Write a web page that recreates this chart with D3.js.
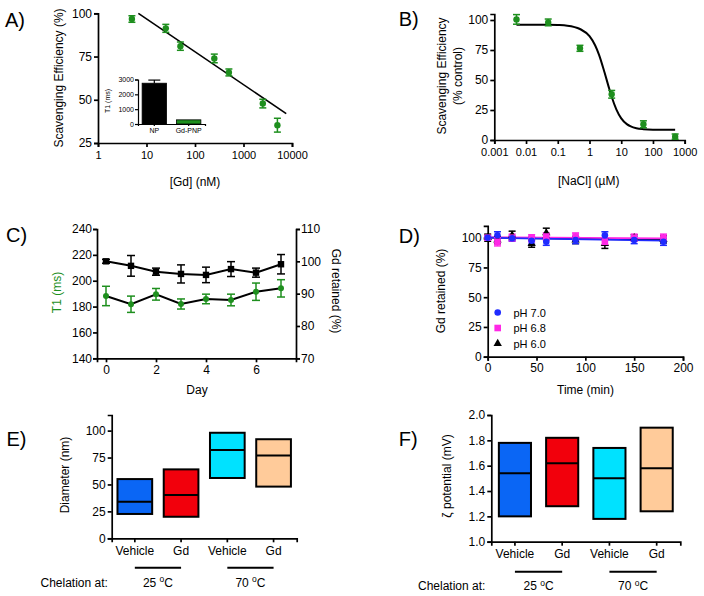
<!DOCTYPE html>
<html><head><meta charset="utf-8">
<script src="https://cdn.jsdelivr.net/npm/d3@7"></script>
<style>body{margin:0;background:#fff} svg{display:block}</style>
</head><body>
<svg id="c" width="704" height="596"></svg>
<script>
// ---------- DATA ----------
// Panel A
const aConc = [5, 25, 50, 250, 500, 2500, 5000];
const aEff = [96.7, 91.3, 81, 73.9, 65.8, 47.8, 35.3];
const aErr = [1.9, 2.3, 2.4, 2.5, 2, 2.5, 4];
const aFitConc = [6.8, 7600];
const aFitEff = [100, 42];
const aXTicks = [1, 10, 100, 1000, 10000];
const aYTicks = [25, 50, 75, 100];
const aInsetCats = ["NP", "Gd-PNP"];
const aInsetT1 = [2750, 280];
const aInsetErr = [210, 0];
const aInsetTicks = [0, 1000, 2000, 3000];
// Panel B
const bConc = [0.005, 0.05, 0.5, 5, 50, 500];
const bEff = [100.5, 98, 76.4, 38.1, 13.1, 2.8];
const bErr = [4, 2.8, 2.5, 3.2, 2.9, 2.2];
const bCurveConc = [0.005, 0.05, 0.1, 0.2, 0.5, 1, 1.5, 2, 3, 4, 5, 7, 10, 15, 20, 30, 50, 100, 500];
const bCurveEff = [96, 96, 95.8, 95.3, 92.5, 86.5, 79, 71, 56, 44.5, 36, 25.5, 18, 13.2, 11.3, 9.8, 9, 8.6, 8.5];
const bXTicks = [0.001, 0.01, 0.1, 1, 10, 100, 1000];
const bXLabels = ["0.001", "0.01", "0.1", "1", "10", "100", "1000"];
const bYTicks = [0, 25, 50, 75, 100];
// Panel C
const cDay = [0, 1, 2, 3, 4, 5, 6, 7];
const cT1 = [188.2, 181.8, 189.5, 182, 185.9, 185.1, 191.5, 194.1];
const cT1Err = [7.5, 6.3, 4.5, 3.9, 3.7, 4.5, 6.7, 6.7];
const cGd = [100, 98.6, 96.8, 96.1, 95.8, 97.6, 96.5, 99.1];
const cGdErr = [0.6, 3.2, 1.1, 2.8, 2.4, 2.3, 1.4, 3.0];
const cXTicks = [0, 2, 4, 6];
const cLeftTicks = [140, 160, 180, 200, 220, 240];
const cRightTicks = [70, 80, 90, 100, 110];
// Panel D
const dTime = [0, 10, 25, 45, 60, 90, 120, 150, 180];
const dPH70 = [100, 102, 99.5, 97.5, 96.6, 98, 102, 98, 96.6];
const dPH70Err = [1.5, 3, 2, 3, 3, 3, 3, 3, 3];
const dPH68 = [100, 96.6, 100, 99.5, 101, 101, 96.6, 100, 100];
const dPH68Err = [1.5, 3.5, 3, 3, 3, 3, 3, 3, 3];
const dPH60 = [100, 98, 102, 95, 104, 98, 95, 100, 98.6];
const dPH60Err = [3, 3, 3.5, 3, 4, 3, 4, 2.5, 3];
const dFitTime = [0, 180];
const dFit70 = [100, 97.5];
const dFit68 = [100.3, 99.5];
const dFit60 = [100, 98.2];
const dLegend = ["pH 7.0", "pH 6.8", "pH 6.0"];
const dXTicks = [0, 50, 100, 150, 200];
const dYTicks = [0, 25, 50, 75, 100];
// Panel E
const boxCats = ["Vehicle 25", "Gd 25", "Vehicle 70", "Gd 70"];
const boxLabels = ["Vehicle", "Gd", "Vehicle", "Gd"];
const boxColors = ["#0a66f5", "#f2000c", "#00e2ff", "#ffcb9a"];
const eMin = [22.6, 20, 56, 48];
const eMed = [34, 40.2, 82, 77];
const eMax = [55, 64, 98, 92];
const eYTicks = [0, 25, 50, 75, 100];
// Panel F
const fMin = [1.20, 1.28, 1.18, 1.24];
const fMed = [1.54, 1.62, 1.50, 1.58];
const fMax = [1.78, 1.82, 1.74, 1.90];
const fYTicks = [1.0, 1.2, 1.4, 1.6, 1.8, 2.0];
const groupLabels = ["25 ", "70 "];

// ---------- DRAWING ----------
const FONT = '"Liberation Sans", Arial, Helvetica, sans-serif';
const GREEN = "#1e8f1e";
const svg = d3.select("#c");
svg.append("rect").attr("width", 704).attr("height", 596).attr("fill", "#fff");

function styleAxis(g, fs) {
  g.attr("font-size", fs).attr("font-family", FONT);
  g.selectAll("path,line").attr("stroke", "#000").attr("stroke-width", 1.7);
  g.selectAll("text").attr("fill", "#000");
  return g;
}
function txt(x, y, s, opt = {}) {
  const t = svg.append("text").attr("x", x).attr("y", y).text(s)
    .attr("font-family", FONT).attr("font-size", opt.fs || 12)
    .attr("fill", opt.fill || "#000").attr("text-anchor", opt.anchor || "middle");
  if (opt.rot) t.attr("transform", `rotate(${opt.rot},${x},${y})`);
  return t;
}
function errBars(g, xs, ys, es, x, y, color, cap) {
  xs.forEach((d, i) => {
    const cx = x(d), y1 = y(ys[i] - es[i]), y2 = y(ys[i] + es[i]);
    g.append("line").attr("x1", cx).attr("x2", cx).attr("y1", y1).attr("y2", y2).attr("stroke", color).attr("stroke-width", 1.5);
    [y1, y2].forEach(yy => g.append("line").attr("x1", cx - cap / 2).attr("x2", cx + cap / 2).attr("y1", yy).attr("y2", yy).attr("stroke", color).attr("stroke-width", 1.5));
  });
}

// ===== Panel A =====
{
  const g = svg.append("g");
  const x = d3.scaleLog().domain([1, 10000]).range([98, 292]);
  const y = d3.scaleLinear().domain([25, 100]).range([143, 13.3]);
  styleAxis(g.append("g").attr("transform", "translate(0,143)")
    .call(d3.axisBottom(x).tickValues(aXTicks).tickFormat(d3.format("d")).tickSizeOuter(0).tickSize(4).tickPadding(4)), 11);
  styleAxis(g.append("g").attr("transform", "translate(98,0)")
    .call(d3.axisLeft(y).tickValues(aYTicks).tickSizeOuter(0).tickSize(4).tickPadding(2)), 12);
  const line = d3.line().x((d, i) => x(aFitConc[i])).y((d, i) => y(aFitEff[i]));
  g.append("path").attr("d", line(aFitConc)).attr("fill", "none").attr("stroke", "#000").attr("stroke-width", 1.6);
  errBars(g, aConc, aEff, aErr, x, y, GREEN, 7);
  g.selectAll(".pa").data(aConc).join("circle").attr("cx", d => x(d)).attr("cy", (d, i) => y(aEff[i])).attr("r", 3.2).attr("fill", GREEN);
  // inset
  const ix = d3.scaleBand().domain(aInsetCats).range([138, 205]).paddingInner(0.29).paddingOuter(0.12);
  const iy = d3.scaleLinear().domain([0, 3000]).range([124, 79.5]);
  g.selectAll(".ib").data(aInsetCats).join("rect")
    .attr("x", d => ix(d)).attr("width", ix.bandwidth())
    .attr("y", (d, i) => iy(aInsetT1[i])).attr("height", (d, i) => iy(0) - iy(aInsetT1[i]))
    .attr("fill", (d, i) => i === 0 ? "#000" : GREEN).attr("stroke", "#000").attr("stroke-width", 0.8);
  aInsetCats.forEach((c, i) => {
    if (aInsetErr[i] > 0) {
      const cx = ix(c) + ix.bandwidth() / 2, yt = iy(aInsetT1[i] + aInsetErr[i]);
      g.append("line").attr("x1", cx).attr("x2", cx).attr("y1", iy(aInsetT1[i])).attr("y2", yt).attr("stroke", "#000").attr("stroke-width", 1.2);
      g.append("line").attr("x1", cx - 6).attr("x2", cx + 6).attr("y1", yt).attr("y2", yt).attr("stroke", "#000").attr("stroke-width", 1.2);
    }
  });
  const iax = styleAxis(g.append("g").attr("transform", "translate(0,124)")
    .call(d3.axisBottom(ix).tickSizeOuter(0).tickSize(2).tickPadding(2)), 7);
  iax.selectAll("path,line").attr("stroke-width", 1.2);
  const iay = styleAxis(g.append("g").attr("transform", "translate(138,0)")
    .call(d3.axisLeft(iy).tickValues(aInsetTicks).tickFormat(d3.format("d")).tickSizeOuter(0).tickSize(3).tickPadding(1)), 7);
  iay.selectAll("path,line").attr("stroke-width", 1.2);
  txt(110, 101, "T1 (ms)", { fs: 7, rot: -90 });
  txt(195, 186, "[Gd] (nM)", { fs: 12 });
  txt(62.5, 78, "Scavenging Efficiency (%)", { fs: 12, rot: -90 });
  txt(5, 27, "A)", { fs: 20, anchor: "start" });
}

// ===== Panel B =====
{
  const g = svg.append("g");
  const x = d3.scaleLog().domain([0.001, 1000]).range([494.3, 684.7]);
  const y = d3.scaleLinear().domain([0, 105]).range([140, 14]);
  styleAxis(g.append("g").attr("transform", "translate(0,140)")
    .call(d3.axisBottom(x).tickValues(bXTicks).tickFormat((d, i) => bXLabels[i]).tickSizeOuter(0).tickSize(4).tickPadding(4)), 11);
  styleAxis(g.append("g").attr("transform", "translate(494.3,0)")
    .call(d3.axisLeft(y).tickValues(bYTicks).tickSizeOuter(0).tickSize(4).tickPadding(2)), 12);
  const line = d3.line().x((d, i) => x(bCurveConc[i])).y((d, i) => y(bCurveEff[i])).curve(d3.curveMonotoneX);
  g.append("path").attr("d", line(bCurveConc)).attr("fill", "none").attr("stroke", "#000").attr("stroke-width", 2);
  errBars(g, bConc, bEff, bErr, x, y, GREEN, 7);
  g.selectAll(".pb").data(bConc).join("circle").attr("cx", d => x(d)).attr("cy", (d, i) => y(bEff[i])).attr("r", 3.2).attr("fill", GREEN);
  txt(588.7, 185, "[NaCl] (µM)", { fs: 12 });
  txt(446, 76, "Scavenging Efficiency", { fs: 12, rot: -90 });
  txt(462, 76, "(% control)", { fs: 12, rot: -90 });
  txt(398.7, 25.5, "B)", { fs: 20, anchor: "start" });
}

// ===== Panel C =====
{
  const g = svg.append("g");
  const x = d3.scaleLinear().domain([-0.36, 7.6]).range([97, 296]);
  const yl = d3.scaleLinear().domain([140, 240]).range([358.3, 229]);
  const yr = d3.scaleLinear().domain([70, 110]).range([358.3, 229]);
  styleAxis(g.append("g").attr("transform", "translate(0,358.3)")
    .call(d3.axisBottom(x).tickValues(cXTicks).tickSizeOuter(0).tickSize(4).tickPadding(3)), 12);
  styleAxis(g.append("g").attr("transform", "translate(97,0)")
    .call(d3.axisLeft(yl).tickValues(cLeftTicks).tickSizeOuter(0).tickSize(4).tickPadding(1)), 12);
  styleAxis(g.append("g").attr("transform", "translate(296,0)")
    .call(d3.axisRight(yr).tickValues(cRightTicks).tickSizeOuter(0).tickSize(4).tickPadding(1)), 12);
  const lineG = d3.line().x((d, i) => x(cDay[i])).y((d, i) => yr(cGd[i]));
  const lineT = d3.line().x((d, i) => x(cDay[i])).y((d, i) => yl(cT1[i]));
  g.append("path").attr("d", lineT(cDay)).attr("fill", "none").attr("stroke", "#000").attr("stroke-width", 2);
  g.append("path").attr("d", lineG(cDay)).attr("fill", "none").attr("stroke", "#000").attr("stroke-width", 2);
  errBars(g, cDay, cGd, cGdErr, x, yr, "#000", 8);
  errBars(g, cDay, cT1, cT1Err, x, yl, GREEN, 8);
  g.selectAll(".sq").data(cDay).join("rect").attr("x", d => x(d) - 3.2).attr("y", (d, i) => yr(cGd[i]) - 3.2).attr("width", 6.4).attr("height", 6.4).attr("fill", "#000");
  g.selectAll(".ci").data(cDay).join("circle").attr("cx", d => x(d)).attr("cy", (d, i) => yl(cT1[i])).attr("r", 3).attr("fill", GREEN);
  txt(197, 394, "Day", { fs: 12 });
  txt(61, 292.5, "T1 (ms)", { fs: 12, rot: -90, fill: GREEN });
  txt(332, 291, "Gd retained (%)", { fs: 12, rot: 90 });
  txt(6, 241.5, "C)", { fs: 20, anchor: "start" });
}

// ===== Panel D =====
{
  const g = svg.append("g");
  const x = d3.scaleLinear().domain([0, 200]).range([487.7, 683]);
  const y = d3.scaleLinear().domain([0, 110]).range([356.7, 225.8]);
  styleAxis(g.append("g").attr("transform", "translate(0,356.7)")
    .call(d3.axisBottom(x).tickValues(dXTicks).tickSizeOuter(0).tickSize(4).tickPadding(3)), 12);
  styleAxis(g.append("g").attr("transform", "translate(487.7,0)")
    .call(d3.axisLeft(y).tickValues(dYTicks).tickSizeOuter(0).tickSize(4).tickPadding(2)), 12);
  const BLUE = "#1f2bff", PINK = "#ff28e6";
  const fl = vals => d3.line().x((d, i) => x(dFitTime[i])).y((d, i) => y(vals[i]))(dFitTime);
  g.append("path").attr("d", fl(dFit60)).attr("stroke", "#000").attr("stroke-width", 1.8).attr("fill", "none");
  g.append("path").attr("d", fl(dFit68)).attr("stroke", PINK).attr("stroke-width", 1.8).attr("fill", "none");
  g.append("path").attr("d", fl(dFit70)).attr("stroke", BLUE).attr("stroke-width", 1.8).attr("fill", "none");
  errBars(g, dTime, dPH60, dPH60Err, x, y, "#000", 7);
  errBars(g, dTime, dPH68, dPH68Err, x, y, PINK, 7);
  errBars(g, dTime, dPH70, dPH70Err, x, y, BLUE, 7);
  const tri = d3.symbol().type(d3.symbolTriangle).size(30);
  g.selectAll(".tr").data(dTime).join("path").attr("d", tri).attr("transform", (d, i) => `translate(${x(d)},${y(dPH60[i])})`).attr("fill", "#000");
  g.selectAll(".sq").data(dTime).join("rect").attr("x", d => x(d) - 3.3).attr("y", (d, i) => y(dPH68[i]) - 3.3).attr("width", 6.6).attr("height", 6.6).attr("fill", PINK);
  g.selectAll(".ci").data(dTime).join("circle").attr("cx", d => x(d)).attr("cy", (d, i) => y(dPH70[i])).attr("r", 3.3).attr("fill", BLUE);
  // legend
  const ly = [312.5, 328, 343.5];
  g.append("circle").attr("cx", 497.7).attr("cy", ly[0]).attr("r", 3.3).attr("fill", BLUE);
  g.append("rect").attr("x", 497.7 - 3.3).attr("y", ly[1] - 3.3).attr("width", 6.6).attr("height", 6.6).attr("fill", PINK);
  g.append("path").attr("d", tri).attr("transform", `translate(497.7,${ly[2]})`).attr("fill", "#000");
  dLegend.forEach((s, i) => txt(513.5, ly[i] + 4, s, { fs: 11, anchor: "start" }));
  txt(585.5, 394, "Time (min)", { fs: 12 });
  txt(445, 291, "Gd retained (%)", { fs: 12, rot: -90 });
  txt(398.7, 242.5, "D)", { fs: 20, anchor: "start" });
}

// ===== Box panels E & F =====
function boxPanel(opt) {
  const g = svg.append("g");
  const x = d3.scaleBand().domain(boxCats).range([opt.x0, opt.x1]).paddingInner(opt.pi).paddingOuter(opt.pi / 2);
  const y = d3.scaleLinear().domain(opt.yDom).range([opt.yBot, opt.yTop]);
  styleAxis(g.append("g").attr("transform", `translate(0,${opt.yBot})`)
    .call(d3.axisBottom(x).tickFormat((d, i) => boxLabels[i]).tickSizeOuter(0).tickSize(4).tickPadding(4)), 12);
  styleAxis(g.append("g").attr("transform", `translate(${opt.x0},0)`)
    .call(d3.axisLeft(y).tickValues(opt.ticks).tickFormat(opt.fmt).tickSizeOuter(0).tickSize(4).tickPadding(2)), 12);
  boxCats.forEach((c, i) => {
    g.append("rect").attr("x", x(c)).attr("width", x.bandwidth())
      .attr("y", y(opt.max[i])).attr("height", y(opt.min[i]) - y(opt.max[i]))
      .attr("fill", boxColors[i]).attr("stroke", "#000").attr("stroke-width", 2);
    g.append("line").attr("x1", x(c)).attr("x2", x(c) + x.bandwidth())
      .attr("y1", y(opt.med[i])).attr("y2", y(opt.med[i])).attr("stroke", "#000").attr("stroke-width", 2);
  });
  // group underlines
  [[0, 1], [2, 3]].forEach((pr, k) => {
    const xa1 = x(boxCats[pr[0]]) + x.bandwidth() / 2, xa2 = x(boxCats[pr[1]]) + x.bandwidth() / 2;
    g.append("line").attr("x1", xa1).attr("x2", xa2).attr("y1", opt.ulY).attr("y2", opt.ulY).attr("stroke", "#000").attr("stroke-width", 2);
    const t = txt((xa1 + xa2) / 2, opt.labY, groupLabels[k], { fs: 12 });
    t.append("tspan").attr("dy", -4.5).attr("font-size", 8.5).text("o");
    t.append("tspan").attr("dy", 4.5).text("C");
  });
  txt(opt.chelX, opt.labY, "Chelation at:", { fs: 12, anchor: "start" });
  txt(opt.yLabX, opt.yLabY, opt.yLab, { fs: 12, rot: -90 });
  txt(opt.panX, opt.panY, opt.pan, { fs: 20, anchor: "start" });
}
boxPanel({ x0: 111.7, x1: 296.7, pi: 0.25, yDom: [0, 114.5], yBot: 538.3, yTop: 415,
  ticks: eYTicks, fmt: d3.format("d"), min: eMin, med: eMed, max: eMax,
  ulY: 567.7, labY: 586.5, chelX: 40.5, yLab: "Diameter (nm)", yLabX: 69, yLabY: 475,
  pan: "E)", panX: 6.5, panY: 446 });
boxPanel({ x0: 491.3, x1: 680.3, pi: 0.32, yDom: [1.0, 2.0], yBot: 541.7, yTop: 415,
  ticks: fYTicks, fmt: d3.format(".1f"), min: fMin, med: fMed, max: fMax,
  ulY: 571.7, labY: 590, chelX: 418, yLab: "ζ potential (mV)", yLabX: 451, yLabY: 476,
  pan: "F)", panX: 398.7, panY: 446 });
</script>
</body></html>
